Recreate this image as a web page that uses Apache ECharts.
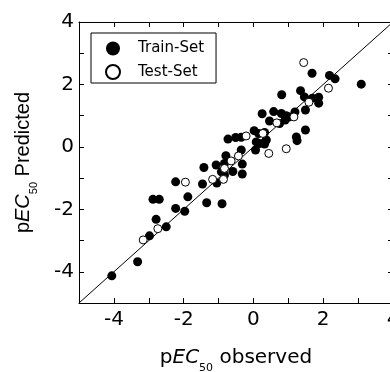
<!DOCTYPE html>
<html>
<head>
<meta charset="utf-8">
<script src="https://cdn.jsdelivr.net/npm/echarts@6/dist/echarts.min.js"></script>
<style>
  html, body { margin: 0; background: #fff; }
  #chart { width: 390px; height: 372px; }
</style>
</head>
<body>
<div id="chart"></div>
<script>
// values (pEC50 observed / predicted)
const trainObserved = [1.68, 2.18, 2.34, 3.09, 0.81, 1.35, 1.46, 1.69, 1.87, 1.87, 1.49, 0.25, 0.58, 0.80, 0.94, 1.03, 1.19, 0.46, 0.75, 0.91, 1.49, 0.02, -0.73, -0.51, -0.35, 0.32, 0.08, 0.37, 0.17, 0.06, 1.23, 1.25, -0.35, -0.79, -0.32, -0.32, -0.59, -1.07, -1.42, -0.92, -0.83, -1.05, -2.23, -1.46, -2.88, -2.70, -1.88, -1.34, -0.90, -2.23, -1.97, -2.79, -2.50, -2.98, -3.32, -4.06, 0.15, 0.32, -0.83];
const trainPredicted = [2.36, 2.29, 2.18, 2.01, 1.67, 1.80, 1.60, 1.56, 1.59, 1.40, 1.18, 1.06, 1.13, 1.07, 1.00, 0.96, 1.12, 0.83, 0.75, 0.86, 0.54, 0.52, 0.25, 0.30, 0.31, 0.46, 0.16, 0.22, 0.11, -0.10, 0.32, 0.20, -0.10, -0.28, -0.55, -0.87, -0.79, -0.58, -0.66, -0.80, -0.90, -1.16, -1.12, -1.19, -1.68, -1.68, -1.60, -1.79, -1.82, -1.97, -2.06, -2.32, -2.56, -2.85, -3.68, -4.13, 0.43, 0.09, -0.53];
const testObserved = [1.44, 2.15, 1.59, 1.16, 0.67, 0.27, -0.21, 0.94, 0.44, -0.43, -0.64, -0.83, -1.17, -0.86, -1.95, -2.74, -3.16];
const testPredicted = [2.70, 1.88, 1.43, 0.96, 0.77, 0.43, 0.35, -0.06, -0.21, -0.29, -0.45, -0.69, -1.04, -1.04, -1.13, -2.62, -2.98];
const identityLine = [[-5, -5], [4, 4]];
const tickLabels = [-4, -2, 0, 2, 4];
const seriesNames = ['Train-Set', 'Test-Set'];

const font = 'DejaVu Sans';
const narrowFont = 'Liberation Sans';
const pairs = (xs, ys) => xs.map((x, i) => [x, ys[i]]);
const showTick = (v) => (tickLabels.includes(v) ? String(v) : '');

// p EC_50 with italic EC and a dropped subscript
const titleRich = (family) => ({
  n: { fontSize: 20, fontFamily: family, color: '#000', lineHeight: 20 },
  i: { fontSize: 20, fontFamily: family, color: '#000', fontStyle: 'italic', lineHeight: 20 },
  s: { fontSize: 11, fontFamily: family, color: '#000', verticalAlign: 'bottom', lineHeight: 32 },
});

const baseAxis = {
  type: 'value',
  min: -5,
  max: 4,
  interval: 1,
  splitLine: { show: false },
  axisLine: { onZero: false, lineStyle: { color: '#000', width: 1 } },
  axisTick: { inside: true, length: 5, lineStyle: { color: '#000' } },
};

const chart = echarts.init(document.getElementById('chart'));
chart.setOption({
  animation: false,
  grid: { left: 79, top: 22, width: 314, height: 281, outerBoundsMode: 'none', containLabel: false },
  legend: {
    data: seriesNames,
    orient: 'vertical',
    left: 91,
    top: 33,
    icon: 'circle',
    itemWidth: 14,
    itemHeight: 14,
    itemGap: 8,
    padding: [8, 12, 3, 14],
    borderColor: '#000',
    borderWidth: 1,
    borderRadius: 0,
    textStyle: { fontSize: 15, fontFamily: font, color: '#000', padding: [0, 0, 0, 13] },
  },
  xAxis: [
    {
      ...baseAxis,
      position: 'bottom',
      axisLabel: { formatter: showTick, fontSize: 20, fontFamily: font, color: '#000', margin: 7 },
      name: '{n|p}{i|EC}{s|50}{n| observed}',
      nameLocation: 'middle',
      nameGap: 39,
      nameTextStyle: { rich: titleRich(font) },
    },
    { ...baseAxis, position: 'top', axisLabel: { show: false } },
  ],
  yAxis: [
    {
      ...baseAxis,
      position: 'left',
      axisLabel: { formatter: showTick, fontSize: 20, fontFamily: font, color: '#000', margin: 5 },
      name: '{n|p}{i|EC}{s|50}{n| Predicted}',
      nameLocation: 'middle',
      nameGap: 40,
      nameTextStyle: { rich: titleRich(narrowFont) },
    },
    { ...baseAxis, position: 'right', axisLabel: { show: false } },
  ],
  series: [
    {
      type: 'line',
      data: identityLine,
      showSymbol: false,
      symbol: 'none',
      lineStyle: { color: '#000', width: 1 },
      silent: true,
      z: 1,
    },
    {
      name: seriesNames[0],
      type: 'scatter',
      data: pairs(trainObserved, trainPredicted),
      symbolSize: 9,
      itemStyle: { color: '#000', opacity: 1 },
      z: 2,
    },
    {
      name: seriesNames[1],
      type: 'scatter',
      data: pairs(testObserved, testPredicted),
      symbolSize: 8,
      itemStyle: { color: '#fff', borderColor: '#000', borderWidth: 1, opacity: 1 },
      z: 3,
    },
  ],
});
</script>
</body>
</html>
